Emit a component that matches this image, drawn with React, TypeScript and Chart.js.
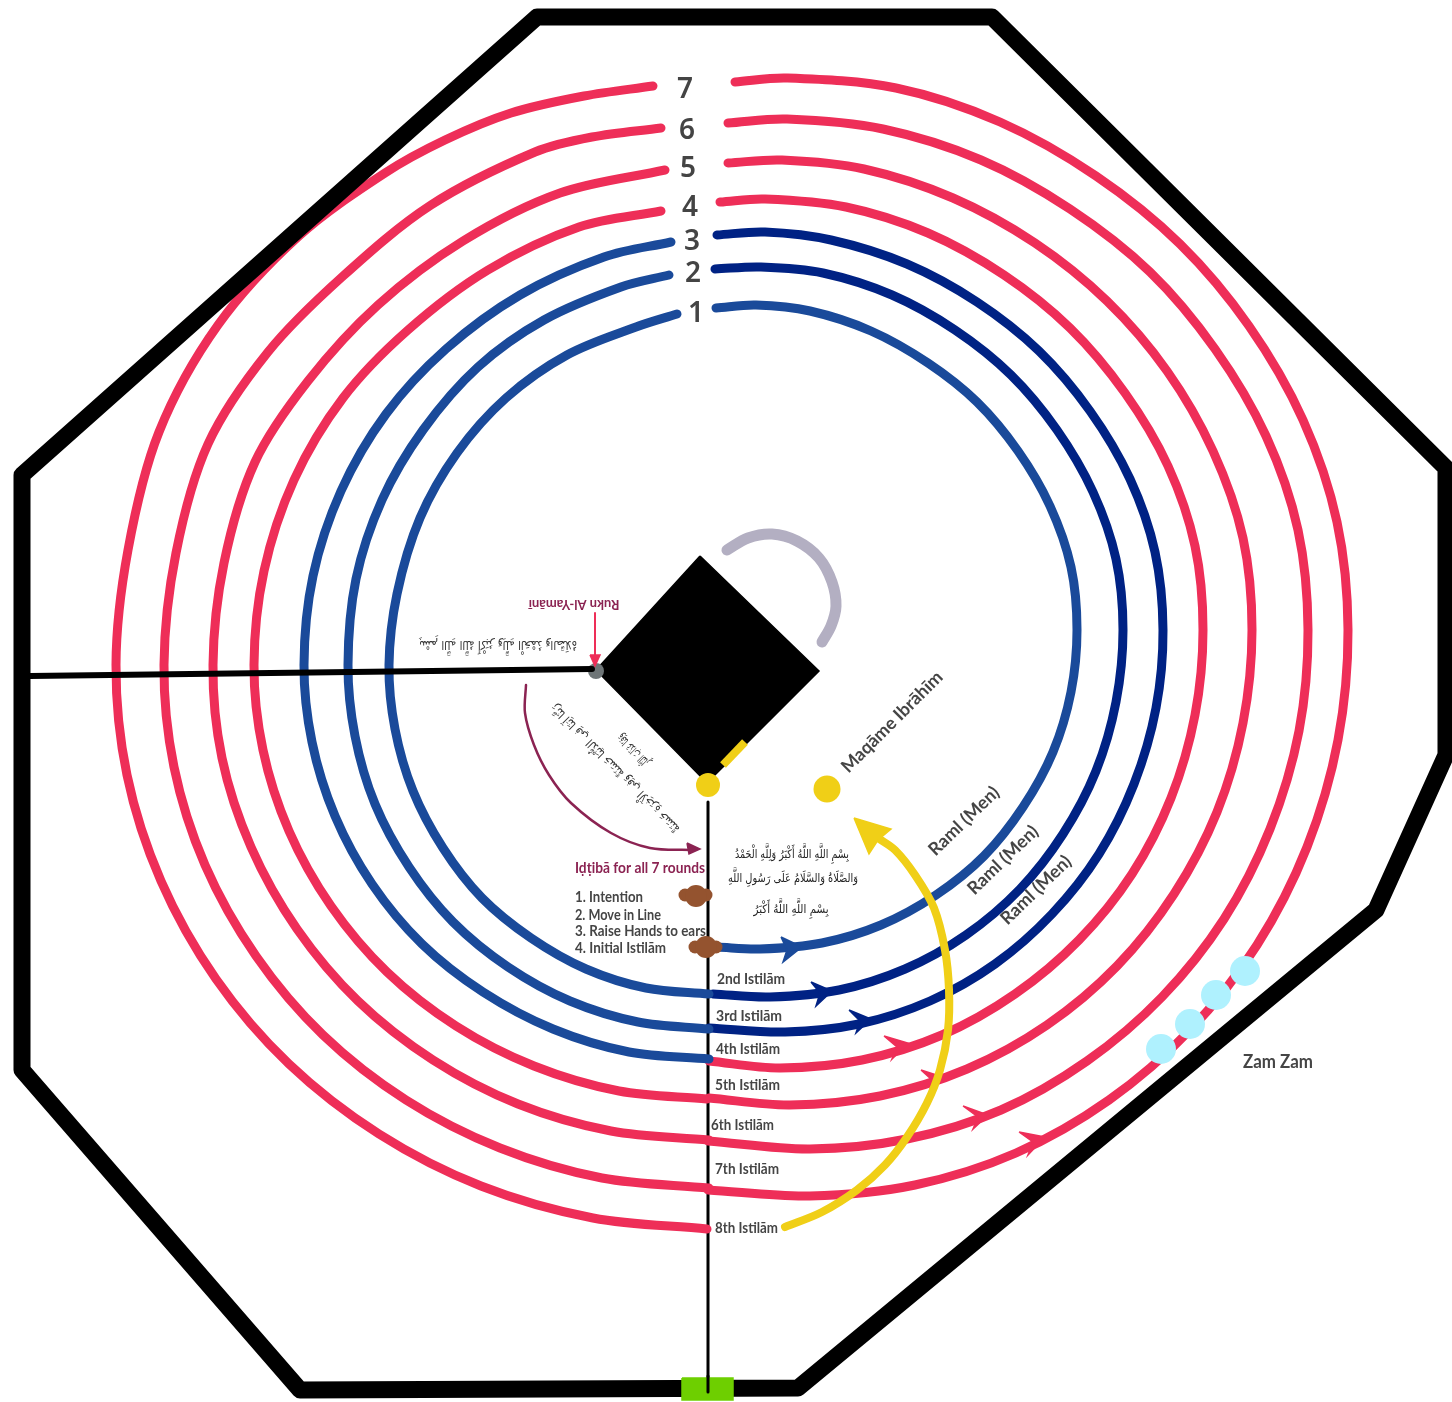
import React, { useEffect, useRef } from "react";
import { Chart, registerables } from "chart.js";

Chart.register(...registerables);

type P = [number, number];

// ---- rings: right part (top -> bottom) and left part (top -> bottom) ----
const right1: P[] = [[716,308],[756,305],[810,311],[871,331],[928,363],[977,402],[1018,451],[1050,506],[1071,567],[1077,630],[1071,692],[1053,752],[1023,807],[984,856],[936,895],[881,925],[822,943],[760,949],[717,947]];
const right2: P[] = [[715,269],[761,267],[823,273],[892,295],[955,330],[1011,375],[1057,430],[1093,492],[1116,559],[1123,630],[1116,702],[1096,771],[1063,834],[1020,889],[966,935],[905,969],[839,990],[770,997],[713,994]];
const right3: P[] = [[717,235],[765,232],[831,240],[907,264],[977,302],[1039,351],[1090,411],[1130,479],[1155,552],[1163,630],[1156,708],[1134,784],[1099,854],[1052,914],[995,964],[930,1001],[859,1024],[785,1032],[709,1028]];
const right4: P[] = [[720,202],[765,199],[846,207],[928,233],[1004,275],[1070,328],[1125,393],[1168,466],[1195,546],[1203,630],[1195,715],[1171,798],[1132,874],[1079,940],[1015,994],[942,1035],[862,1060],[780,1068],[709,1061]];
const right5: P[] = [[728,163],[782,160],[864,169],[953,198],[1035,243],[1107,301],[1167,371],[1213,451],[1243,538],[1252,630],[1243,723],[1217,812],[1174,894],[1117,966],[1047,1025],[967,1069],[880,1096],[790,1105],[709,1098]];
const right6: P[] = [[728,123],[787,119],[883,129],[981,160],[1070,209],[1150,272],[1215,349],[1266,436],[1298,530],[1308,630],[1299,731],[1270,829],[1224,919],[1162,997],[1087,1061],[1001,1110],[907,1139],[810,1149],[708,1141]];
const right7: P[] = [[735,82],[787,78],[896,88],[1000,122],[1096,176],[1180,244],[1249,326],[1303,420],[1337,522],[1348,630],[1338,740],[1307,847],[1257,945],[1190,1030],[1109,1100],[1016,1153],[915,1185],[810,1196],[708,1190]];

const left1: P[] = [[677,314],[636,327],[567,355],[506,398],[457,453],[420,518],[397,594],[389,665],[395,729],[413,791],[443,848],[482,898],[531,938],[586,969],[646,988],[709,994]];
const left2: P[] = [[669,275],[621,287],[544,320],[478,367],[423,430],[382,500],[356,579],[348,665],[355,736],[375,804],[409,867],[453,922],[508,967],[570,1001],[638,1022],[709,1029]];
const left3: P[] = [[671,242],[604,257],[520,295],[446,349],[386,414],[341,491],[313,576],[304,665],[312,742],[335,816],[372,884],[422,944],[483,992],[553,1029],[629,1052],[709,1059]];
const left4: P[] = [[661,211],[579,227],[488,270],[408,330],[343,398],[294,480],[264,571],[254,665],[263,750],[289,831],[331,906],[387,972],[456,1026],[534,1066],[619,1091],[707,1099]];
const left5: P[] = [[665,170],[560,193],[463,241],[378,305],[308,381],[255,462],[224,563],[213,665],[222,758],[251,847],[297,929],[358,1001],[433,1060],[518,1104],[611,1131],[709,1140]];
const left6: P[] = [[661,128],[592,137],[535,152],[431,205],[342,277],[268,352],[208,444],[176,553],[164,665],[174,767],[205,865],[256,956],[323,1035],[406,1100],[500,1148],[602,1178],[709,1188]];
const left7: P[] = [[653,86],[584,96],[511,113],[445,140],[385,173],[299,236],[218,325],[159,432],[128,550],[116,665],[127,775],[161,881],[216,979],[289,1064],[379,1134],[481,1186],[593,1218],[707,1229]];

// ---- arrow heads on the rings ----
const head1: P[] = [[781,937],[802,947],[783,962],[787,950],[781,937]];
const head2: P[] = [[811,982],[832,991],[816,1006],[820,993],[811,982]];
const head3: P[] = [[849,1010],[871,1019],[856,1033],[860,1021],[849,1010]];
const head4: P[] = [[884,1036],[908,1043],[892,1059],[897,1047],[884,1036]];
const head5: P[] = [[921,1070],[943,1077],[930,1090],[932,1080],[921,1070]];
const head6: P[] = [[963,1106],[988,1115],[973,1129],[978,1117],[963,1106]];
const head7: P[] = [[1019,1132],[1045,1137],[1028,1155],[1033,1142],[1019,1132]];

// ---- walls, Kaaba and other features ----
const wall: P[] = [[537,17],[992,17],[1446,468],[1446,755],[1376,910],[798,1388],[300,1390],[22,1070],[22,475],[537,17]];
const kaaba: P[] = [[700,556],[819,671],[707,783],[596,670],[700,556]];
const hijr: P[] = [[727,550],[748,538],[772,534],[797,541],[819,558],[832,582],[836,606],[831,626],[822,642]];
const stoneBar: P[] = [[723,765],[745,742]];
const startLine: P[] = [[708,802],[708,1380]];
const startStub: P[] = [[708,1376],[708,1392]];
const gate: P[] = [[682,1378],[733,1378],[733,1400],[682,1400],[682,1378]];
const yamaniLine: P[] = [[30,676],[592,669]];
const yamaniArrow: P[] = [[595,613],[595,658]];
const yamaniHead: P[] = [[590,655],[600,655],[595,666],[590,655]];
const idtibaArc: P[] = [[526,685],[525,713],[534,745],[549,775],[571,803],[611,833],[650,848],[693,850]];
const idtibaHead: P[] = [[687,843],[700,849],[689,854],[687,843]];
const exitArc: P[] = [[785,1227],[822,1212],[857,1190],[885,1165],[907,1137],[927,1103],[940,1070],[948,1030],[949,990],[945,950],[934,908],[915,875],[895,850],[878,838]];
const exitHead: P[] = [[854,818],[891,829],[878,840],[869,854],[854,818]];

const blackStone: P[] = [[708,785]];
const maqam: P[] = [[827,789]];
const yamaniCorner: P[] = [[596,671]];
const zamzam: P[] = [[1161,1049],[1190,1024],[1216,995],[1245,971]];
const brownCore: P[] = [[696,896],[706,947]];
const brownLobes: P[] = [[685,895],[706,895],[695,947],[716,947]];

// ---- text ----
const roundNumbers = ["7", "6", "5", "4", "3", "2", "1"];
const roundNumberAt: P[] = [[685,90],[687,131],[688,169],[690,208],[692,242],[693,274],[696,314]];
const istilamLabels = ["2nd Istilām", "3rd Istilām", "4th Istilām", "5th Istilām", "6th Istilām", "7th Istilām", "8th Istilām"];
const istilamAt: P[] = [[717,979],[716,1016],[716,1049],[715,1085],[711,1125],[715,1169],[715,1228]];
const stepLabels = ["1. Intention", "2. Move in Line", "3. Raise Hands to ears", "4. Initial Istilām"];
const stepAt: P[] = [[575,897],[575,915],[575,931],[575,948]];
const stepWidths = [68, 86, 131, 91];
const duaRight = ["بِسْمِ اللَّهِ اللَّهُ أَكْبَرُ وَلِلَّهِ الْحَمْدُ", "وَالصَّلَاةُ وَالسَّلَامُ عَلَى رَسُولِ اللَّهِ", "بِسْمِ اللَّهِ اللَّهُ أَكْبَرُ"];
const duaAt: P[] = [[792,855],[793,879],[791,910]];
const duaWidths = [114, 130, 75];
const duaYamani = "رَبَّنَا آتِنَا فِي الدُّنْيَا حَسَنَةً وَفِي الْآخِرَةِ حَسَنَةً";
const duaYamani2 = "وَقِنَا عَذَابَ النَّارِ";
const duaCorner = "بِسْمِ اللَّهِ اللَّهُ أَكْبَرُ وَلِلَّهِ الْحَمْدُ وَالصَّلَاةُ";

const RED = "#ee2e58", BLUE = "#1a4a9a", NAVY = "#002284", YELLOW = "#f0cf17", MAROON = "#8b2352", INK = "#454545";
const LATIN = "Lato, 'Noto Sans', sans-serif";
const ARABIC = "'DejaVu Sans', sans-serif";

type Lab = { t: string; at: P; font: string; color: string; w?: number; rot?: number; align?: CanvasTextAlign; rtl?: boolean };
const labels: Lab[] = [
  ...roundNumbers.map((t, i): Lab => ({ t, at: roundNumberAt[i], font: "600 28px 'Noto Sans', sans-serif", color: "#444" })),
  ...istilamLabels.map((t, i): Lab => ({ t, at: istilamAt[i], font: `700 15px ${LATIN}`, color: INK, w: [68,66,64,65,63,64,63][i], align: "left" })),
  ...stepLabels.map((t, i): Lab => ({ t, at: stepAt[i], font: `700 15px ${LATIN}`, color: INK, w: stepWidths[i], align: "left" })),
  { t: "Iḍṭibā for all 7 rounds", at: [575,868], font: `700 15px ${LATIN}`, color: MAROON, w: 130, align: "left" },
  { t: "Zam Zam", at: [1243,1062], font: `700 18px ${LATIN}`, color: INK, w: 70, align: "left" },
  { t: "Maqāme Ibrāhīm", at: [892,722], font: `700 18px ${LATIN}`, color: INK, w: 135, rot: -45 },
  { t: "Raml (Men)", at: [964,821], font: `700 18px ${LATIN}`, color: INK, w: 94, rot: -44 },
  { t: "Raml (Men)", at: [1003,860], font: `700 18px ${LATIN}`, color: INK, w: 94, rot: -44 },
  { t: "Raml (Men)", at: [1036,890], font: `700 18px ${LATIN}`, color: INK, w: 94, rot: -44 },
  { t: "Rukn Al-Yamānī", at: [574,604], font: `700 13px ${LATIN}`, color: MAROON, w: 95, rot: 180 },
  ...duaRight.map((t, i): Lab => ({ t, at: duaAt[i], font: `12px ${ARABIC}`, color: "#222", w: duaWidths[i], rtl: true })),
  { t: duaCorner, at: [498,644], font: `12px ${ARABIC}`, color: "#333", w: 158, rot: 180, rtl: true },
  { t: duaYamani, at: [616,768], font: `12px ${ARABIC}`, color: "#333", w: 176, rot: 225, rtl: true },
  { t: duaYamani2, at: [634,750], font: `12px ${ARABIC}`, color: "#333", w: 41, rot: 225, rtl: true },
];

const textPlugin = {
  id: "diagramText",
  afterDatasetsDraw(chart: any) {
    const { ctx, scales } = chart;
    for (const l of labels) {
      ctx.save();
      ctx.translate(scales.x.getPixelForValue(l.at[0]), scales.y.getPixelForValue(l.at[1]));
      if (l.rot) ctx.rotate((l.rot * Math.PI) / 180);
      ctx.font = l.font;
      ctx.fillStyle = l.color;
      ctx.textBaseline = "middle";
      ctx.textAlign = l.align ?? "center";
      ctx.direction = l.rtl ? "rtl" : "ltr";
      if (l.w) ctx.fillText(l.t, 0, 0, l.w);
      else ctx.fillText(l.t, 0, 0);
      ctx.restore();
    }
  },
};

const toXY = (pts: P[]) => pts.map(([x, y]) => ({ x, y }));
const stroke = (pts: P[], color: string, width: number, tension = 0.33, cap = "round") => ({
  data: toXY(pts), showLine: true, borderColor: color, borderWidth: width, tension,
  borderCapStyle: cap, borderJoinStyle: "round", pointRadius: 0, fill: false,
});
const shape = (pts: P[], color: string) => ({
  data: toXY(pts), showLine: true, borderColor: color, borderWidth: 1.5, tension: 0,
  backgroundColor: color, pointRadius: 0, fill: "shape",
});
const dots = (pts: P[], color: string, r: number) => ({
  data: toXY(pts), showLine: false, backgroundColor: color, borderWidth: 0, pointRadius: r, pointBorderWidth: 0,
});

export default function App() {
  const ref = useRef<HTMLCanvasElement>(null);
  useEffect(() => {
    // listed bottom-most first
    const layers: any[] = [
      stroke(startLine, "#000", 3, 0),
      stroke(left7, RED, 9), stroke(right7, RED, 9),
      stroke(left6, RED, 9), stroke(right6, RED, 9),
      stroke(left5, RED, 9), stroke(right5, RED, 9),
      stroke(right4, RED, 9), stroke(left4, RED, 9),
      stroke(right3, NAVY, 9), stroke(left3, BLUE, 9),
      stroke(right2, NAVY, 9), stroke(left2, BLUE, 9),
      stroke(right1, BLUE, 9), stroke(left1, BLUE, 9),
      shape(head1, BLUE), shape(head2, NAVY), shape(head3, NAVY),
      shape(head4, RED), shape(head5, RED), shape(head6, RED), shape(head7, RED),
      dots(zamzam, "#aff1fe", 15),
      stroke(wall, "#000", 17, 0),
      shape(gate, "#6ecf00"),
      stroke(startStub, "#000", 3, 0),
      stroke(hijr, "#b3afc2", 11),
      shape(kaaba, "#000"),
      stroke(stoneBar, YELLOW, 8, 0, "butt"),
      dots(blackStone, YELLOW, 12),
      dots(maqam, YELLOW, 13.5),
      dots(yamaniCorner, "#6e7577", 8),
      stroke(yamaniLine, "#000", 6, 0),
      stroke(yamaniArrow, RED, 2, 0), shape(yamaniHead, RED),
      stroke(idtibaArc, MAROON, 2.5), shape(idtibaHead, MAROON),
      stroke(exitArc, YELLOW, 8), shape(exitHead, YELLOW),
      dots(brownLobes, "#94532f", 6.5),
      dots(brownCore, "#94532f", 11),
    ];
    layers.forEach((d, i) => { d.order = layers.length - i; d.clip = false; });
    const chart = new Chart(ref.current!, {
      type: "scatter",
      data: { datasets: layers },
      plugins: [textPlugin],
      options: {
        animation: false,
        responsive: false,
        devicePixelRatio: 1,
        layout: { padding: 0, autoPadding: false },
        scales: {
          x: { type: "linear", min: 0, max: 1452, display: false },
          y: { type: "linear", min: 0, max: 1402, reverse: true, display: false },
        },
        plugins: { legend: { display: false }, tooltip: { enabled: false } },
      },
    } as any);
    return () => chart.destroy();
  }, []);
  return (
    <div style={{ position: "absolute", left: 0, top: 0, width: 1452, height: 1402, background: "#fff", overflow: "hidden" }}>
      <canvas ref={ref} width={1452} height={1402} style={{ display: "block" }} />
    </div>
  );
}
